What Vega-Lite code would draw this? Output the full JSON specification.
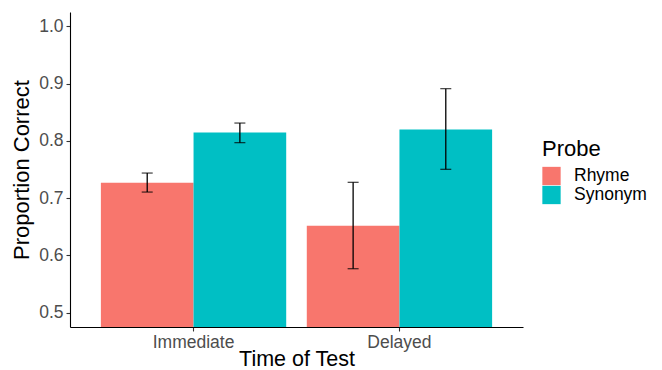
{
  "$schema": "https://vega.github.io/schema/vega-lite/v6.json",
  "autosize": {"type": "none"},
  "padding": {"left": 70, "top": 12, "right": 139, "bottom": 43},
  "width": 453,
  "height": 315,
  "background": "white",
  "config": {
    "view": {"stroke": null},
    "font": "Liberation Sans",
    "axis": {
      "grid": false,
      "domainColor": "#000000",
      "domainWidth": 1.1,
      "tickColor": "#333333",
      "tickWidth": 1.1,
      "tickSize": 4,
      "labelFont": "Liberation Sans",
      "labelFontSize": 17.5,
      "labelColor": "#4D4D4D",
      "titleFont": "Liberation Sans",
      "titleFontSize": 22,
      "titleFontWeight": "normal",
      "titleColor": "#000000"
    }
  },
  "data": {
    "values": [
      {"time": "Immediate", "probe": "Rhyme", "mean": 0.727, "lo": 0.7106, "hi": 0.7438},
      {"time": "Immediate", "probe": "Synonym", "mean": 0.8144, "lo": 0.7969, "hi": 0.8311},
      {"time": "Delayed", "probe": "Rhyme", "mean": 0.652, "lo": 0.5768, "hi": 0.7276},
      {"time": "Delayed", "probe": "Synonym", "mean": 0.8198, "lo": 0.7503, "hi": 0.8912}
    ]
  },
  "encoding": {
    "x": {
      "field": "time",
      "type": "nominal",
      "sort": ["Immediate", "Delayed"],
      "scale": {"paddingInner": 0.1, "paddingOuter": 0.15},
      "axis": {"title": "Time of Test", "titleFontSize": 21.5, "labelAngle": 0, "labelPadding": 2.5, "titlePadding": -2.5}
    },
    "xOffset": {
      "field": "probe",
      "type": "nominal",
      "sort": ["Rhyme", "Synonym"],
      "scale": {"paddingInner": 0, "paddingOuter": 0}
    }
  },
  "layer": [
    {
      "mark": {"type": "bar", "clip": true},
      "encoding": {
        "y": {
          "field": "mean",
          "type": "quantitative",
          "scale": {"domain": [0.475, 1.025], "zero": false, "nice": false},
          "axis": {
            "title": "Proportion Correct",
            "values": [0.5, 0.6, 0.7, 0.8, 0.9, 1.0],
            "format": ".1f",
            "labelPadding": 3,
            "titlePadding": 5
          }
        },
        "color": {
          "field": "probe",
          "type": "nominal",
          "scale": {"domain": ["Rhyme", "Synonym"], "range": ["#F8766D", "#00BFC4"]},
          "legend": {
            "title": "Probe",
            "orient": "none",
            "legendX": 472,
            "legendY": 126.5,
            "padding": 0,
            "titleFont": "Liberation Sans",
            "titleFontSize": 22,
            "titleFontWeight": "normal",
            "titleColor": "#000000",
            "titlePadding": 6,
            "labelFont": "Liberation Sans",
            "labelFontSize": 17.5,
            "labelColor": "#000000",
            "labelOffset": 13,
            "symbolType": "square",
            "symbolSize": 335,
            "symbolStrokeWidth": 0,
            "rowPadding": 0
          }
        }
      }
    },
    {
      "mark": {"type": "rule", "color": "#000000", "strokeWidth": 1.3},
      "encoding": {
        "y": {"field": "lo", "type": "quantitative"},
        "y2": {"field": "hi"}
      }
    },
    {
      "mark": {"type": "tick", "color": "#000000", "thickness": 1.3, "size": 11, "orient": "horizontal"},
      "encoding": {"y": {"field": "lo", "type": "quantitative"}}
    },
    {
      "mark": {"type": "tick", "color": "#000000", "thickness": 1.3, "size": 11, "orient": "horizontal"},
      "encoding": {"y": {"field": "hi", "type": "quantitative"}}
    }
  ]
}
